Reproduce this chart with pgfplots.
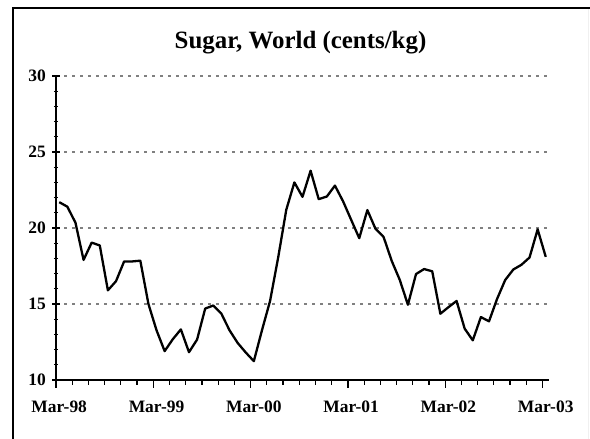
\documentclass[border=0pt]{standalone}
\usepackage{pgfplots}
\pgfplotsset{compat=1.18}
\usepackage{fontspec}
\setmainfont{Liberation Serif}

\definecolor{gridgray}{RGB}{128,128,128}

\begin{document}
\begin{tikzpicture}
\useasboundingbox (0,0) rectangle (590bp,439bp);
% chart frame (top and left edges visible, right edge faint)
\draw[line width=2bp] (12.7bp,0) -- (12.7bp,431bp) -- (590bp,431bp);
\draw[gray!12, line width=1bp] (588.5bp,0) -- (588.5bp,430bp);
\node[anchor=base, font=\bfseries\fontsize{25}{25}\selectfont] at (300.5bp,390.7bp) {Sugar, World (cents/kg)};
\begin{axis}[
  scale only axis, width=493bp, height=304bp,
  at={(56bp,59bp)}, anchor=south west,
  xmin=-0.4, xmax=60.4, ymin=10, ymax=30,
  axis x line*=bottom, axis y line*=left,
  axis line style={line width=1.2bp, -},
  xtick={-0.4,11.6,23.6,35.6,47.6,59.6},
  xticklabels={Mar-98,Mar-99,Mar-00,Mar-01,Mar-02,Mar-03},
  minor xtick={1.6,3.6,...,57.6},
  ytick={10,15,20,25,30},
  minor ytick={11,12,13,14,16,17,18,19,21,22,23,24,26,27,28,29},
  tick style={black, line width=1.2bp},
  xtick align=outside,
  ytick align=center,
  major tick length=7.5bp, minor tick length=4.5bp,
  ymajorgrids,
  major grid style={gridgray, line width=1.7bp, dash pattern=on 2.6bp off 5.4bp},
  /pgf/number format/assume math mode=true,
  ticklabel style={font=\bfseries\fontsize{17.5}{17.5}\selectfont},
  xticklabel style={xshift=3.2bp, yshift=-10bp},
  yticklabel style={xshift=-3bp},
  clip=false,
]
\addplot[black, line width=2.3bp, line join=round] coordinates {
 (0,21.7)(1,21.4)(2,20.35)(3,17.9)(4,19.04)(5,18.85)(6,15.9)(7,16.5)(8,17.8)(9,17.8)
 (10,17.85)(11,15.0)(12,13.27)(13,11.9)(14,12.68)(15,13.33)(16,11.83)(17,12.66)(18,14.7)(19,14.9)
 (20,14.36)(21,13.27)(22,12.44)(23,11.81)(24,11.24)(25,13.27)(26,15.2)(27,18.06)(28,21.2)(29,23.0)
 (30,22.05)(31,23.77)(32,21.9)(33,22.07)(34,22.79)(35,21.76)(36,20.54)(37,19.33)(38,21.18)(39,19.95)
 (40,19.41)(41,17.84)(42,16.58)(43,14.95)(44,16.97)(45,17.3)(46,17.15)(47,14.36)(48,14.79)(49,15.2)
 (50,13.38)(51,12.61)(52,14.14)(53,13.86)(54,15.34)(55,16.58)(56,17.27)(57,17.58)(58,18.06)(59,19.91)
 (60,18.1)};
\end{axis}
\end{tikzpicture}
\end{document}
